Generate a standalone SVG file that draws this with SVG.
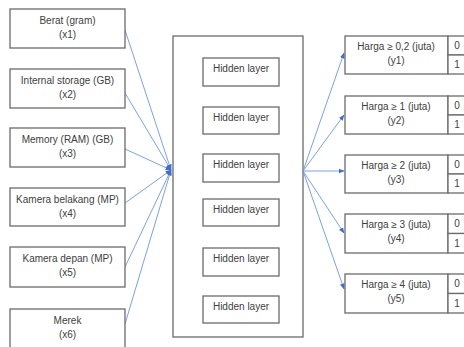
<svg xmlns="http://www.w3.org/2000/svg" width="464" height="347" viewBox="0 0 464 347">
<style>
  .box { fill: #ffffff; stroke: #6b6b6b; stroke-width: 1.3; }
  .t { font-family: "Liberation Sans", "Open Sans", sans-serif; font-size: 10px; fill: #404040; text-anchor: middle; }
  .c { stroke: #6e96dc; stroke-width: 0.9; fill: none; }
</style>
<defs>
  <marker id="ah" viewBox="0 0 10 10" refX="9" refY="5" markerWidth="6" markerHeight="6" markerUnits="userSpaceOnUse" orient="auto">
    <path d="M0,1 L10,5 L0,9 Z" fill="#3f6fc8"/>
  </marker>
</defs>
<rect width="464" height="347" fill="#ffffff"/>

<g id="hidden-container">
  <rect class="box" x="173" y="36" width="130" height="301"/>
</g>

<g id="connectors">
  <line class="c" x1="125" y1="30" x2="171" y2="170" marker-end="url(#ah)"/>
  <line class="c" x1="125" y1="93" x2="171" y2="170" marker-end="url(#ah)"/>
  <line class="c" x1="125" y1="149" x2="171" y2="170" marker-end="url(#ah)"/>
  <line class="c" x1="125" y1="203" x2="171" y2="170" marker-end="url(#ah)"/>
  <line class="c" x1="125" y1="267" x2="171" y2="170" marker-end="url(#ah)"/>
  <line class="c" x1="125" y1="324" x2="171" y2="170" marker-end="url(#ah)"/>
  <line class="c" x1="303" y1="171" x2="344" y2="53" marker-end="url(#ah)"/>
  <line class="c" x1="303" y1="171" x2="344" y2="115" marker-end="url(#ah)"/>
  <line class="c" x1="303" y1="171" x2="344" y2="171" marker-end="url(#ah)"/>
  <line class="c" x1="303" y1="171" x2="344" y2="233" marker-end="url(#ah)"/>
  <line class="c" x1="303" y1="171" x2="344" y2="289" marker-end="url(#ah)"/>
</g>

<g id="x1"><rect class="box" x="10" y="9" width="115" height="39"/><text class="t" x="67.5" y="24">Berat (gram)</text><text class="t" x="67.5" y="38">(x1)</text></g>
<g id="x2"><rect class="box" x="10" y="69" width="115" height="39"/><text class="t" x="67.5" y="84">Internal storage (GB)</text><text class="t" x="67.5" y="98">(x2)</text></g>
<g id="x3"><rect class="box" x="10" y="128" width="115" height="39"/><text class="t" x="67.5" y="143">Memory (RAM) (GB)</text><text class="t" x="67.5" y="157">(x3)</text></g>
<g id="x4"><rect class="box" x="10" y="188" width="115" height="38"/><text class="t" x="67.5" y="203">Kamera belakang (MP)</text><text class="t" x="67.5" y="217">(x4)</text></g>
<g id="x5"><rect class="box" x="10" y="247" width="115" height="40"/><text class="t" x="67.5" y="262">Kamera depan (MP)</text><text class="t" x="67.5" y="276">(x5)</text></g>
<g id="x6"><rect class="box" x="10" y="309" width="115" height="40"/><text class="t" x="67.5" y="324">Merek</text><text class="t" x="67.5" y="338">(x6)</text></g>

<g id="h1"><rect class="box" x="203" y="58" width="76" height="28"/><text class="t" x="241" y="72">Hidden layer</text></g>
<g id="h2"><rect class="box" x="203" y="107" width="76" height="27"/><text class="t" x="241" y="120.5">Hidden layer</text></g>
<g id="h3"><rect class="box" x="203" y="154" width="76" height="28"/><text class="t" x="241" y="167.5">Hidden layer</text></g>
<g id="h4"><rect class="box" x="203" y="199" width="76" height="27"/><text class="t" x="241" y="212.5">Hidden layer</text></g>
<g id="h5"><rect class="box" x="203" y="248" width="76" height="28"/><text class="t" x="241" y="261.5">Hidden layer</text></g>
<g id="h6"><rect class="box" x="203" y="296" width="76" height="27"/><text class="t" x="241" y="309.5">Hidden layer</text></g>

<g id="y1"><rect class="box" x="345" y="36" width="103" height="38"/><rect class="box" x="448" y="36" width="20" height="19"/><rect class="box" x="448" y="55" width="20" height="19"/><text class="t" x="396" y="50">Harga ≥ 0,2 (juta)</text><text class="t" x="396" y="64">(y1)</text><text class="t" x="457" y="49">0</text><text class="t" x="457" y="68">1</text></g>
<g id="y2"><rect class="box" x="345" y="96" width="103" height="38"/><rect class="box" x="448" y="96" width="20" height="19"/><rect class="box" x="448" y="115" width="20" height="19"/><text class="t" x="396" y="110">Harga ≥ 1 (juta)</text><text class="t" x="396" y="124">(y2)</text><text class="t" x="457" y="109">0</text><text class="t" x="457" y="128">1</text></g>
<g id="y3"><rect class="box" x="345" y="155" width="103" height="38"/><rect class="box" x="448" y="155" width="20" height="19"/><rect class="box" x="448" y="174" width="20" height="19"/><text class="t" x="396" y="169">Harga ≥ 2 (juta)</text><text class="t" x="396" y="183">(y3)</text><text class="t" x="457" y="168">0</text><text class="t" x="457" y="187">1</text></g>
<g id="y4"><rect class="box" x="345" y="214" width="103" height="39"/><rect class="box" x="448" y="214" width="20" height="19.5"/><rect class="box" x="448" y="233.5" width="20" height="19.5"/><text class="t" x="396" y="228">Harga ≥ 3 (juta)</text><text class="t" x="396" y="242">(y4)</text><text class="t" x="457" y="227">0</text><text class="t" x="457" y="247">1</text></g>
<g id="y5"><rect class="box" x="345" y="274" width="103" height="39"/><rect class="box" x="448" y="274" width="20" height="19.5"/><rect class="box" x="448" y="293.5" width="20" height="19.5"/><text class="t" x="396" y="288">Harga ≥ 4 (juta)</text><text class="t" x="396" y="302">(y5)</text><text class="t" x="457" y="287">0</text><text class="t" x="457" y="307">1</text></g>
</svg>
